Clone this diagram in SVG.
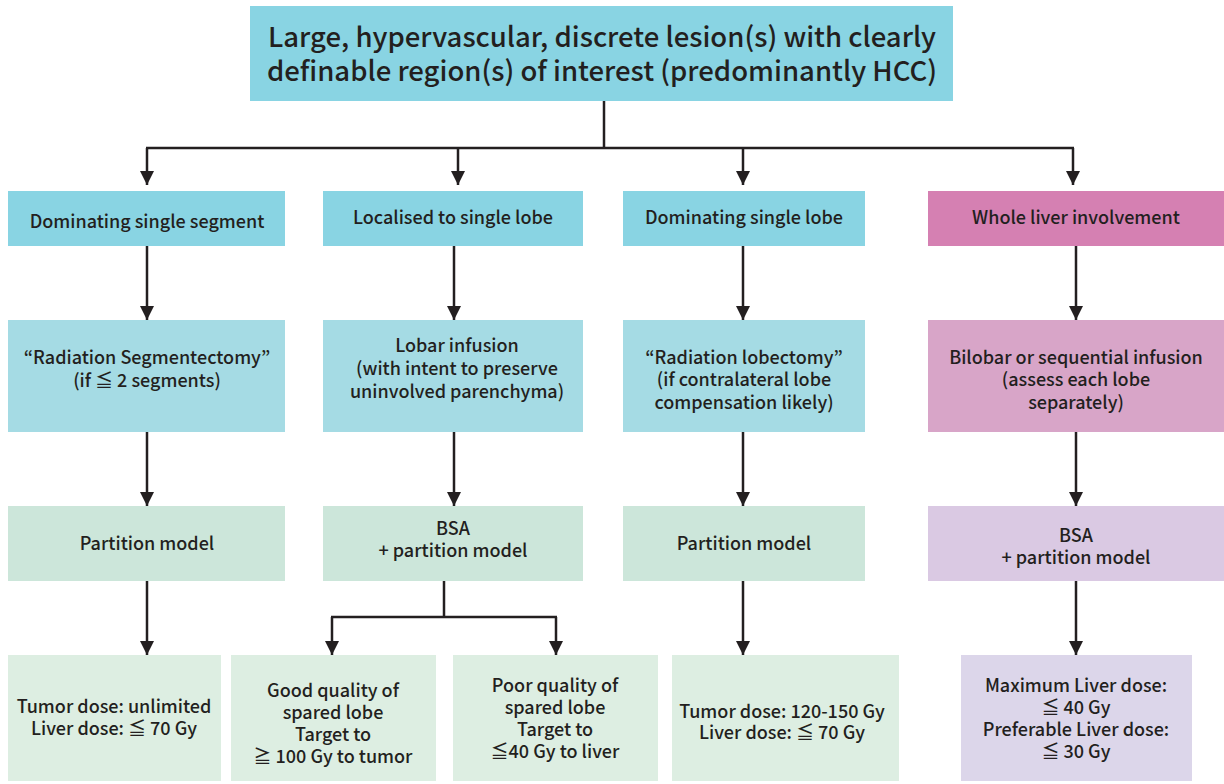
<svg xmlns="http://www.w3.org/2000/svg" width="1224" height="784" viewBox="0 0 1224 784">
<defs>
<style>
text{font-family:"Noto Sans CJK KR","Noto Sans CJK SC","Noto Sans",sans-serif;font-weight:500;fill:#231f20;text-anchor:middle}
.t{font-size:18px}
.big{font-size:27.5px}
.c1{fill:#89d4e3}.c2{fill:#a5dbe4}.c3{fill:#cce6da}.c4{fill:#ddeee2}
.m1{fill:#d580b2}.m2{fill:#d8a5c8}.p3{fill:#dac9e3}.p4{fill:#dcd6ea}
.ln{stroke:#231f20;stroke-width:2.5;fill:none}
</style>
<marker id="ad" markerUnits="userSpaceOnUse" markerWidth="14" markerHeight="14" viewBox="0 0 14 14" refX="14" refY="7" orient="auto">
<path d="M0,0 L14,7 L0,14 Z" fill="#231f20"/>
</marker>
</defs>
<rect width="1224" height="784" fill="#ffffff"/>
<g id="connectors" class="ln">
<path d="M604,101 V148"/>
<path d="M146,148 H1074"/>
<path d="M147,148 V185" marker-end="url(#ad)"/>
<path d="M458,148 V185" marker-end="url(#ad)"/>
<path d="M743,148 V185" marker-end="url(#ad)"/>
<path d="M1073,148 V185" marker-end="url(#ad)"/>
<path d="M147,246 V320" marker-end="url(#ad)"/>
<path d="M454,246 V320" marker-end="url(#ad)"/>
<path d="M743,246 V320" marker-end="url(#ad)"/>
<path d="M1076,246 V320" marker-end="url(#ad)"/>
<path d="M147,432 V506" marker-end="url(#ad)"/>
<path d="M454,432 V506" marker-end="url(#ad)"/>
<path d="M743,432 V506" marker-end="url(#ad)"/>
<path d="M1076,432 V506" marker-end="url(#ad)"/>
<path d="M147,581 V655" marker-end="url(#ad)"/>
<path d="M444,581 V617"/>
<path d="M331,617 H557"/>
<path d="M332,617 V655" marker-end="url(#ad)"/>
<path d="M556,617 V655" marker-end="url(#ad)"/>
<path d="M743,581 V655" marker-end="url(#ad)"/>
<path d="M1076,581 V655" marker-end="url(#ad)"/>
</g>
<g id="top"><rect class="c1" x="250" y="6" width="703" height="95"/>
<text class="big" x="602" y="47">Large, hypervascular, discrete lesion(s) with clearly</text>
<text class="big" x="602" y="81">definable region(s) of interest (predominantly HCC)</text></g>
<g id="r1a"><rect class="c1" x="8" y="191" width="277" height="55"/><text class="t" x="147" y="228">Dominating single segment</text></g>
<g id="r1b"><rect class="c1" x="323" y="191" width="260" height="55"/><text class="t" x="453" y="224">Localised to single lobe</text></g>
<g id="r1c"><rect class="c1" x="623" y="191" width="242" height="55"/><text class="t" x="744" y="224">Dominating single lobe</text></g>
<g id="r1d"><rect class="m1" x="928" y="191" width="296" height="55"/><text class="t" x="1076" y="224">Whole liver involvement</text></g>
<g id="r2a"><rect class="c2" x="8" y="320" width="277" height="112"/>
<text class="t" x="147" y="364">“Radiation Segmentectomy”</text><text class="t" x="147" y="387">(if ≦ 2 segments)</text></g>
<g id="r2b"><rect class="c2" x="323" y="320" width="260" height="112"/>
<text class="t" x="457" y="352">Lobar infusion</text><text class="t" x="457" y="375">(with intent to preserve</text><text class="t" x="457" y="398">uninvolved parenchyma)</text></g>
<g id="r2c"><rect class="c2" x="623" y="320" width="242" height="112"/>
<text class="t" x="744" y="364">“Radiation lobectomy”</text><text class="t" x="744" y="386">(if contralateral lobe</text><text class="t" x="744" y="409">compensation likely)</text></g>
<g id="r2d"><rect class="m2" x="928" y="320" width="296" height="112"/>
<text class="t" x="1076" y="364">Bilobar or sequential infusion</text><text class="t" x="1076" y="386">(assess each lobe</text><text class="t" x="1076" y="409">separately)</text></g>
<g id="r3a"><rect class="c3" x="8" y="506" width="277" height="75"/><text class="t" x="147" y="550">Partition model</text></g>
<g id="r3b"><rect class="c3" x="323" y="506" width="260" height="75"/><text class="t" x="453" y="535">BSA</text><text class="t" x="453" y="557">+ partition model</text></g>
<g id="r3c"><rect class="c3" x="623" y="506" width="242" height="75"/><text class="t" x="744" y="550">Partition model</text></g>
<g id="r3d"><rect class="p3" x="928" y="506" width="296" height="75"/><text class="t" x="1076" y="542">BSA</text><text class="t" x="1076" y="564">+ partition model</text></g>
<g id="r4a"><rect class="c4" x="8" y="655" width="213" height="126"/>
<text class="t" x="114" y="713">Tumor dose: unlimited</text><text class="t" x="114" y="735">Liver dose: ≦ 70 Gy</text></g>
<g id="r4b"><rect class="c4" x="231" y="655" width="205" height="126"/>
<text class="t" x="333" y="697">Good quality of</text><text class="t" x="333" y="719">spared lobe</text><text class="t" x="333" y="741">Target to</text><text class="t" x="333" y="763">≧ 100 Gy to tumor</text></g>
<g id="r4c"><rect class="c4" x="453" y="655" width="205" height="126"/>
<text class="t" x="555" y="692">Poor quality of</text><text class="t" x="555" y="714">spared lobe</text><text class="t" x="555" y="736">Target to</text><text class="t" x="555" y="758">≦40 Gy to liver</text></g>
<g id="r4d"><rect class="c4" x="672" y="655" width="227" height="126"/>
<text class="t" x="782" y="718">Tumor dose: 120-150 Gy</text><text class="t" x="782" y="739">Liver dose: ≦ 70 Gy</text></g>
<g id="r4e"><rect class="p4" x="961" y="655" width="231" height="126"/>
<text class="t" x="1076" y="692">Maximum Liver dose:</text><text class="t" x="1076" y="714">≦ 40 Gy</text><text class="t" x="1076" y="736">Preferable Liver dose:</text><text class="t" x="1076" y="758">≦ 30 Gy</text></g>
</svg>
